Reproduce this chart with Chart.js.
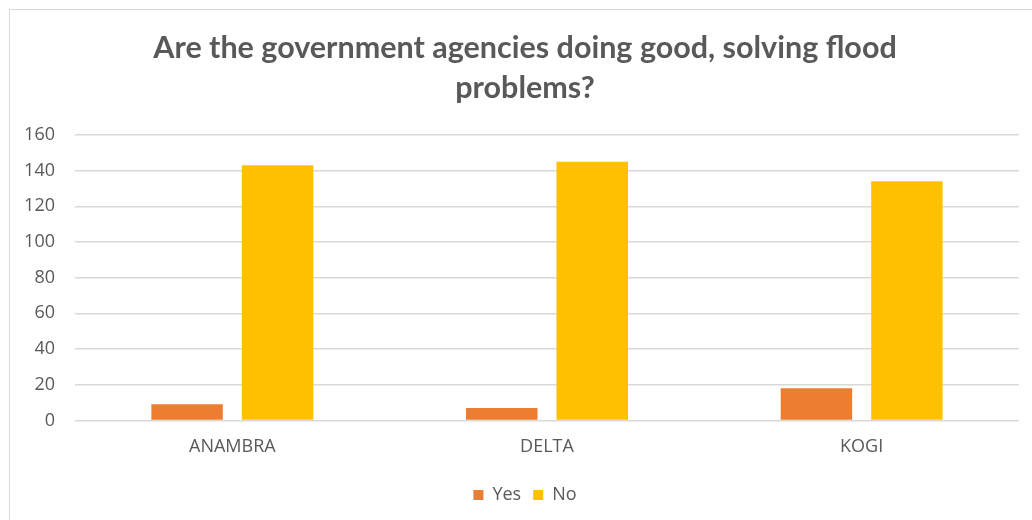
<!DOCTYPE html>
<html>
<head>
<meta charset="utf-8">
<script src="https://cdn.jsdelivr.net/npm/chart.js@4.4.1/dist/chart.umd.min.js"></script>
<style>
  html, body { margin: 0; padding: 0; background: #fff; overflow: hidden; }
  #frame {
    position: absolute; left: 9px; top: 9px; width: 1040px; height: 530px;
    border-left: 1px solid #d9d9d9; border-top: 1px solid #d9d9d9;
  }
  #wrap { position: absolute; left: 0; top: 0; width: 1050px; height: 520px; }
</style>
</head>
<body>
<div id="frame"></div>
<div id="wrap"><canvas id="chart"></canvas></div>
<script>
// survey answers per state
const states = ['ANAMBRA', 'DELTA', 'KOGI'];
const yesValues = [9, 7, 18];
const noValues = [143, 145, 134];
const titleLines = ['Are the government agencies doing good, solving flood', 'problems?'];

const textColor = '#595959';
const gridColor = '#d9d9d9';

new Chart(document.querySelector('#chart').getContext('2d'), {
    type: 'bar',
    data: {
        labels: states,
        datasets: [
            { label: 'Yes', data: yesValues, backgroundColor: '#ed7d31' },
            { label: 'No', data: noValues, backgroundColor: '#ffc000' }
        ]
    },
    options: {
        responsive: true,
        maintainAspectRatio: false,
        animation: false,
        layout: { padding: { left: 6, right: 6, top: 0, bottom: 6 } },
        datasets: { bar: { categoryPercentage: 0.575, barPercentage: 0.79 } },
        plugins: {
            title: {
                display: true,
                text: titleLines,
                color: textColor,
                font: { family: 'Lato', size: 30.5, weight: 'bold', lineHeight: 1.31 },
                padding: { top: 28, bottom: 27 }
            },
            legend: {
                position: 'bottom',
                labels: {
                    color: textColor,
                    font: { family: 'Open Sans', size: 18 },
                    boxWidth: 10,
                    boxHeight: 10,
                    padding: 12
                }
            },
            tooltip: { enabled: false }
        },
        scales: {
            x: {
                grid: { display: false },
                border: { display: false },
                ticks: { color: textColor, font: { family: 'Open Sans', size: 18 }, padding: 8 },
                afterFit: scale => { scale.height += 8; }
            },
            y: {
                min: 0,
                max: 160,
                ticks: { stepSize: 20, color: textColor, font: { family: 'Open Sans', size: 18 }, padding: 20 },
                grid: { color: gridColor, lineWidth: 1.5, drawTicks: false },
                border: { display: false },
                afterFit: scale => { scale.width = 69; }
            },
            // empty right-hand spacer so the title and legend sit centred on the frame
            spacer: {
                type: 'linear',
                position: 'right',
                ticks: { display: false },
                grid: { display: false },
                border: { display: false },
                afterFit: scale => { scale.width = 25; }
            }
        }
    }
});
</script>
</body>
</html>
